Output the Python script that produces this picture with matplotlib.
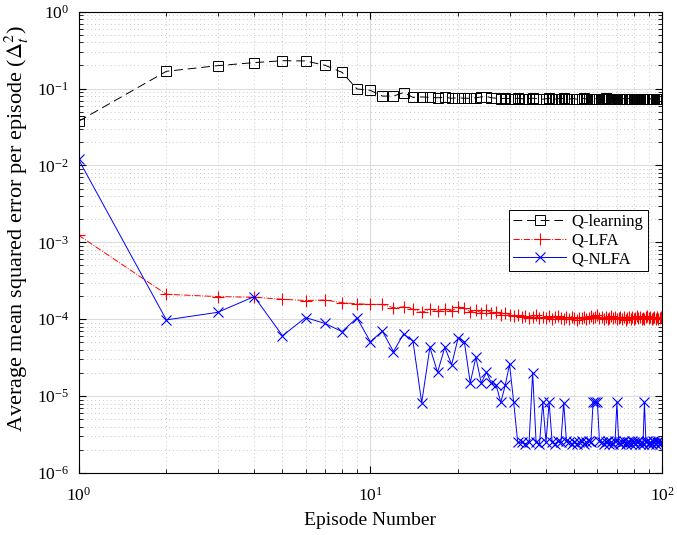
import matplotlib.pyplot as plt
from matplotlib.ticker import LogLocator, NullFormatter

plt.rcParams["font.family"] = "Liberation Serif"
plt.rcParams["mathtext.fontset"] = "stix"

episodes = list(range(1, 101))

q_learning = [
    0.0376, 0.168, 0.199, 0.218, 0.231, 0.229, 0.201, 0.163, 0.099, 0.095,
    0.080, 0.080, 0.089, 0.077, 0.078, 0.077, 0.076, 0.077, 0.075, 0.076,
    0.075, 0.075, 0.076, 0.078, 0.079, 0.076, 0.075, 0.074, 0.075, 0.074,
    0.074, 0.075, 0.074, 0.073, 0.074, 0.075, 0.074, 0.074, 0.073, 0.074,
    0.075, 0.074, 0.073, 0.074, 0.074, 0.075, 0.074, 0.073, 0.074, 0.074,
    0.073, 0.074, 0.074, 0.075, 0.073, 0.074, 0.074, 0.073, 0.074, 0.074,
    0.074, 0.073, 0.074, 0.075, 0.074, 0.073, 0.074, 0.074, 0.073, 0.074,
    0.074, 0.073, 0.074, 0.074, 0.073, 0.074, 0.074, 0.073, 0.074, 0.073,
    0.074, 0.074, 0.073, 0.074, 0.073, 0.074, 0.074, 0.073, 0.074, 0.073,
    0.074, 0.073, 0.074, 0.073, 0.074, 0.073, 0.074, 0.073, 0.073, 0.074,
]

q_lfa = [
    1.24e-3, 2.11e-4, 1.97e-4, 1.93e-4, 1.82e-4, 1.75e-4, 1.78e-4, 1.64e-4, 1.59e-4, 1.56e-4,
    1.56e-4, 1.41e-4, 1.45e-4, 1.35e-4, 1.23e-4, 1.35e-4, 1.29e-4, 1.35e-4, 1.28e-4, 1.45e-4,
    1.38e-4, 1.25e-4, 1.30e-4, 1.22e-4, 1.32e-4, 1.20e-4, 1.26e-4, 1.15e-4, 1.22e-4, 1.14e-4,
    1.10e-4, 1.12e-4, 1.06e-4, 1.10e-4, 1.04e-4, 1.08e-4, 1.12e-4, 1.03e-4, 1.07e-4, 1.05e-4,
    1.09e-4, 1.02e-4, 1.06e-4, 1.10e-4, 1.03e-4, 1.00e-4, 1.06e-4, 1.02e-4, 1.08e-4, 1.04e-4,
    0.99e-4, 1.05e-4, 1.03e-4, 1.07e-4, 1.01e-4, 1.05e-4, 1.10e-4, 1.03e-4, 1.07e-4, 1.12e-4,
    1.04e-4, 1.08e-4, 1.02e-4, 1.06e-4, 1.00e-4, 1.05e-4, 1.09e-4, 1.03e-4, 1.07e-4, 1.01e-4,
    1.05e-4, 1.08e-4, 1.02e-4, 1.06e-4, 0.99e-4, 1.04e-4, 1.08e-4, 1.02e-4, 1.06e-4, 1.00e-4,
    1.05e-4, 1.09e-4, 1.03e-4, 1.07e-4, 1.01e-4, 1.05e-4, 1.00e-4, 1.06e-4, 1.09e-4, 1.03e-4,
    1.07e-4, 1.01e-4, 1.05e-4, 1.08e-4, 1.02e-4, 1.06e-4, 1.00e-4, 1.04e-4, 1.07e-4, 1.05e-4,
]

q_nlfa = [
    1.20e-2, 9.8e-5, 1.23e-4, 1.97e-4, 6.1e-5, 1.05e-4, 8.8e-5, 6.9e-5, 1.04e-4, 5.1e-5,
    7.0e-5, 3.8e-5, 6.4e-5, 5.2e-5, 8.2e-6, 4.3e-5, 2.04e-5, 4.3e-5, 2.57e-5, 5.7e-5,
    5.1e-5, 1.48e-5, 3.2e-5, 1.48e-5, 2.04e-5, 1.48e-5, 1.38e-5, 8.3e-6, 1.38e-5, 2.6e-5,
    8.3e-6, 2.5e-6, 2.5e-6, 2.4e-6, 2.5e-6, 2.0e-5, 2.5e-6, 2.4e-6, 8.3e-6, 2.5e-6,
    8.3e-6, 2.5e-6, 2.4e-6, 2.6e-6, 2.5e-6, 8.2e-6, 2.6e-6, 2.5e-6, 2.4e-6, 2.5e-6,
    2.4e-6, 2.5e-6, 2.6e-6, 2.4e-6, 2.5e-6, 2.6e-6, 2.5e-6, 8.3e-6, 8.3e-6, 8.3e-6,
    2.6e-6, 2.5e-6, 2.4e-6, 2.5e-6, 2.6e-6, 2.4e-6, 2.5e-6, 2.4e-6, 2.6e-6, 8.3e-6,
    2.5e-6, 2.4e-6, 2.5e-6, 2.6e-6, 2.4e-6, 2.5e-6, 2.5e-6, 2.4e-6, 2.6e-6, 2.5e-6,
    2.4e-6, 2.5e-6, 2.6e-6, 2.4e-6, 2.5e-6, 2.4e-6, 8.3e-6, 2.5e-6, 2.6e-6, 2.4e-6,
    2.5e-6, 2.4e-6, 2.6e-6, 2.5e-6, 2.4e-6, 2.5e-6, 2.6e-6, 2.4e-6, 2.5e-6, 2.5e-6,
]

fig = plt.figure(figsize=(6.77, 5.35), dpi=100)
ax = fig.add_axes([0.116, 0.116, 0.862, 0.862])

ax.loglog(episodes, q_learning, color="black", linestyle=(0, (9, 5)), linewidth=0.7,
          marker="s", markersize=6.5, markerfacecolor="none", markeredgewidth=0.7,
          label="Q-learning")
ax.loglog(episodes, q_lfa, color="red", linestyle="-.", linewidth=0.7,
          marker="+", markersize=8, markeredgewidth=0.8, label="Q-LFA")
ax.loglog(episodes, q_nlfa, color="blue", linestyle="-", linewidth=0.7,
          marker="x", markersize=6.5, markeredgewidth=0.8, label="Q-NLFA")

ax.set_xlim(1, 100)
ax.set_ylim(1e-6, 1)
ax.yaxis.set_major_locator(LogLocator(base=10, numticks=10))
ax.yaxis.set_minor_locator(LogLocator(base=10, subs=range(2, 10), numticks=10))
ax.yaxis.set_minor_formatter(NullFormatter())
ax.xaxis.set_minor_formatter(NullFormatter())

ax.grid(True, which="major", color="#dcdcdc", linewidth=0.8, linestyle="-")
ax.grid(True, which="minor", color="#c8c8c8", linewidth=0.7, linestyle=(0, (1, 3)))
ax.set_axisbelow(True)

ax.tick_params(which="both", direction="in", top=True, right=True, labelsize=12.5)
ax.tick_params(which="major", length=5)
ax.tick_params(which="minor", length=3)
ax.tick_params(axis="x", which="major", pad=10)
ax.tick_params(axis="y", which="major", pad=7)
for s in ax.spines.values():
    s.set_linewidth(0.8)

ax.set_xlabel("Episode Number", fontsize=14)
ax.set_ylabel(r"Average mean squared error per episode ($\Delta_t^2$)", fontsize=16)
ax.yaxis.set_label_coords(-0.082, 0.53)
ax.xaxis.set_label_coords(0.5, -0.085)

leg = ax.legend(loc="upper right", bbox_to_anchor=(0.975, 0.57), fontsize=12,
                fancybox=False, framealpha=1, edgecolor="black", handlelength=3.2,
                borderaxespad=0, handletextpad=0.3, labelspacing=0.15, borderpad=0.25)
leg.get_frame().set_linewidth(0.7)

fig.savefig("out.png", dpi=100)
